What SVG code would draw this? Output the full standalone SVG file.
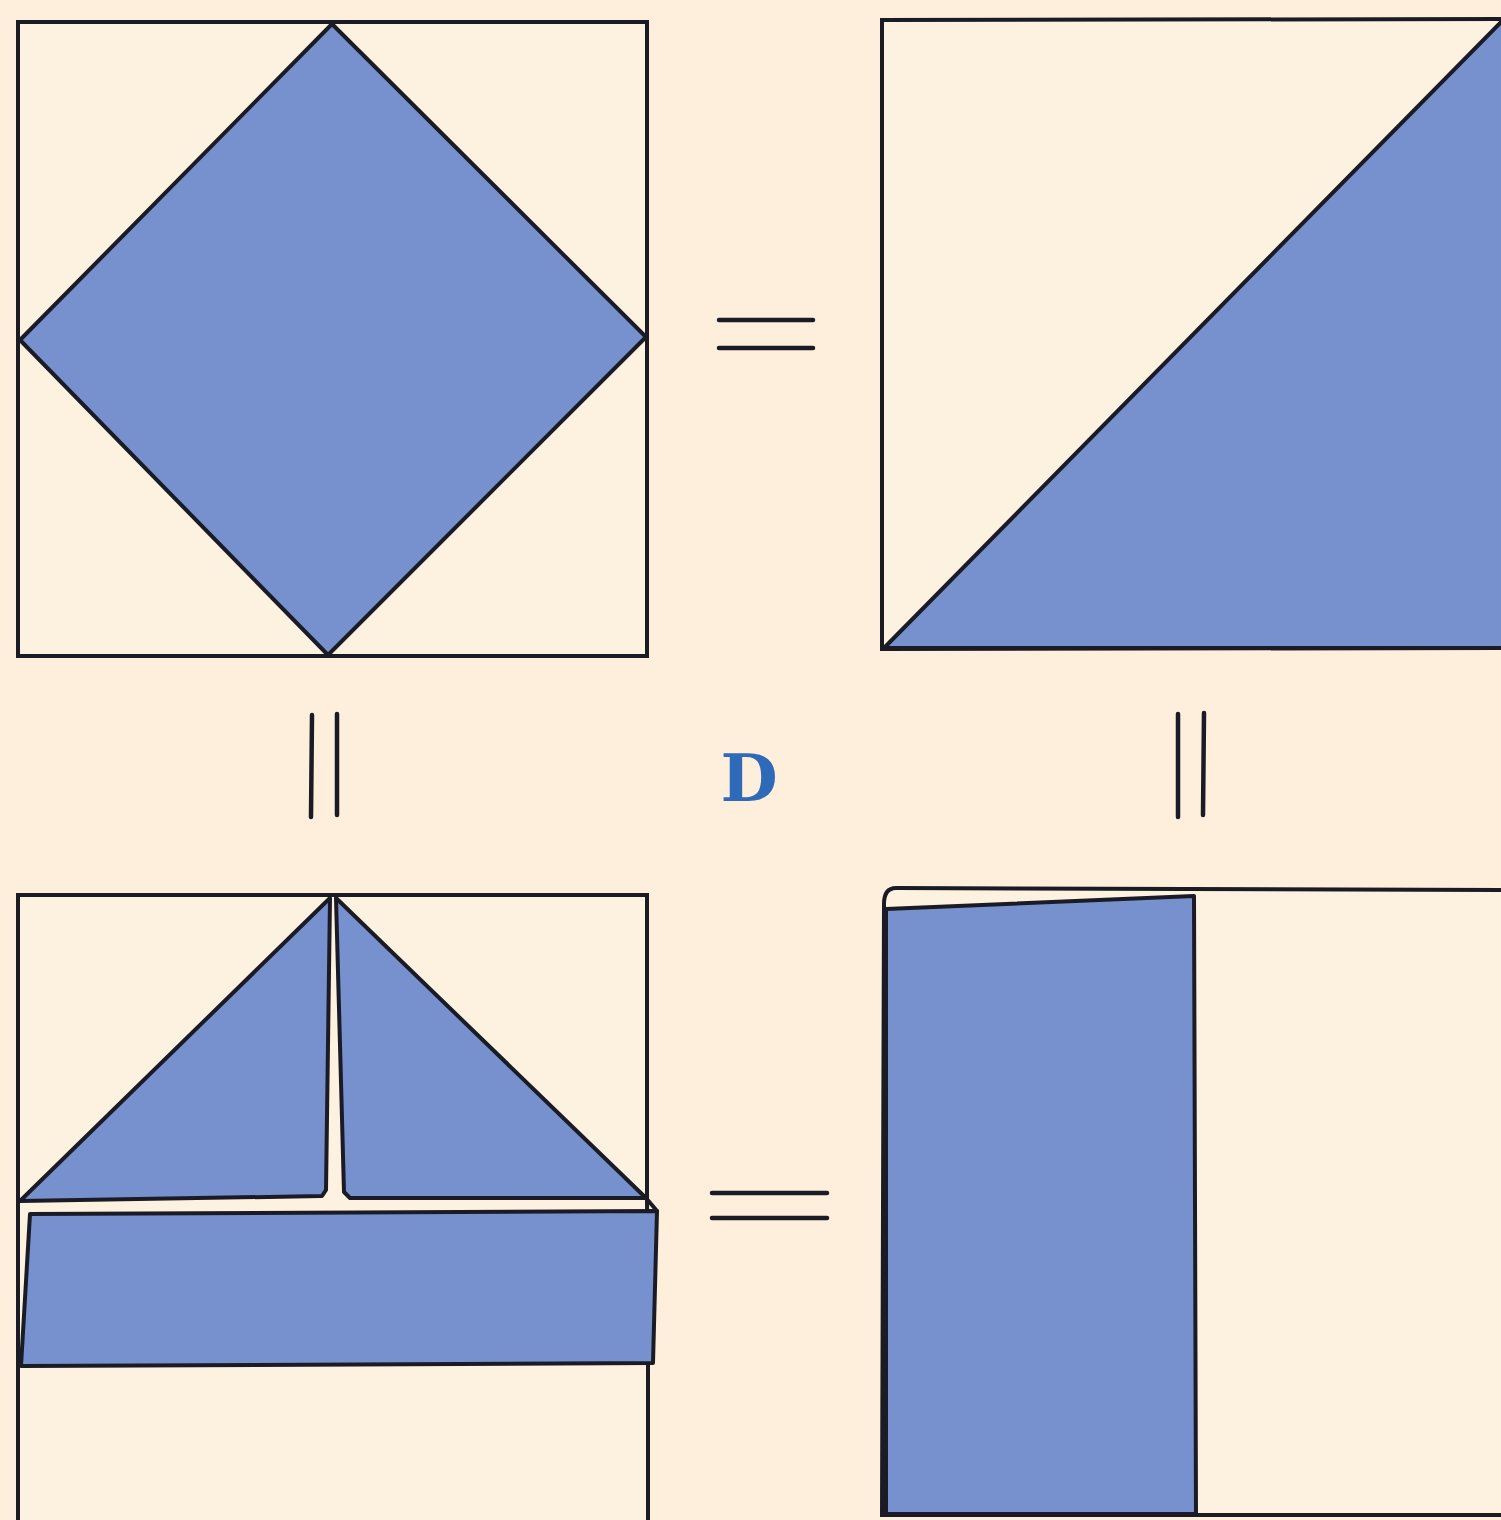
<svg xmlns="http://www.w3.org/2000/svg" width="1501" height="1520" viewBox="0 0 1501 1520">
<style>
.ln{fill:none;stroke:#1b1b26;stroke-width:4;stroke-linejoin:round;stroke-linecap:round}
.bl{fill:#7791cf;stroke:#1b1b26;stroke-width:4;stroke-linejoin:round}
.pg{fill:#fdf1df;stroke:#1b1b26;stroke-width:4}
.eq{stroke:#1b1b26;stroke-width:4.5;stroke-linecap:round}
</style>
<rect x="0" y="0" width="1501" height="1520" fill="#fdefdc"/>
<g id="panel-top-left">
<rect class="pg" x="18" y="22" width="629" height="634"/>
<polygon class="bl" points="332,24 646,337 328,655 20,340"/>
</g>
<g id="panel-top-right">
<path class="pg" d="M1503,19 L882,20 L882,649 L1503,648"/>
<polygon class="bl" points="884,648 1503,20 1503,648"/>
</g>
<g id="panel-bottom-left">
<path class="pg" d="M648,1520 L648,1362 L647,1198 L647,895 L18,895 L18,1522"/>
<polygon class="bl" points="20,1201 330,898 326,1190 322,1196"/>
<polygon class="bl" points="336,898 646,1198 350,1198 344,1192"/>
<path class="ln" d="M646,1198 L657,1211"/>
<polygon class="bl" points="30,1214 657,1211 653,1363 21,1366"/>
</g>
<g id="panel-bottom-right">
<path class="pg" d="M1503,890 L896,888 Q884,888 884,904 L882,1515 L1503,1515"/>
<polygon class="bl" points="886,909 1194,896 1196,1514 886,1514"/>
</g>
<g id="connectors">
<line class="eq" x1="719" y1="320" x2="813" y2="320"/>
<line class="eq" x1="719" y1="348" x2="813" y2="348"/>
<line class="eq" x1="712" y1="1193" x2="827" y2="1193"/>
<line class="eq" x1="712" y1="1218" x2="827" y2="1218"/>
<line class="eq" x1="312" y1="715" x2="311" y2="817"/>
<line class="eq" x1="337" y1="714" x2="337" y2="815"/>
<line class="eq" x1="1178" y1="714" x2="1178" y2="817"/>
<line class="eq" x1="1204" y1="713" x2="1203" y2="815"/>
</g>
<g id="label">
<text x="749" y="801" text-anchor="middle" font-family="'DejaVu Serif', serif" font-weight="bold" font-size="66" fill="#2f6ab8">D</text>
</g>
</svg>
